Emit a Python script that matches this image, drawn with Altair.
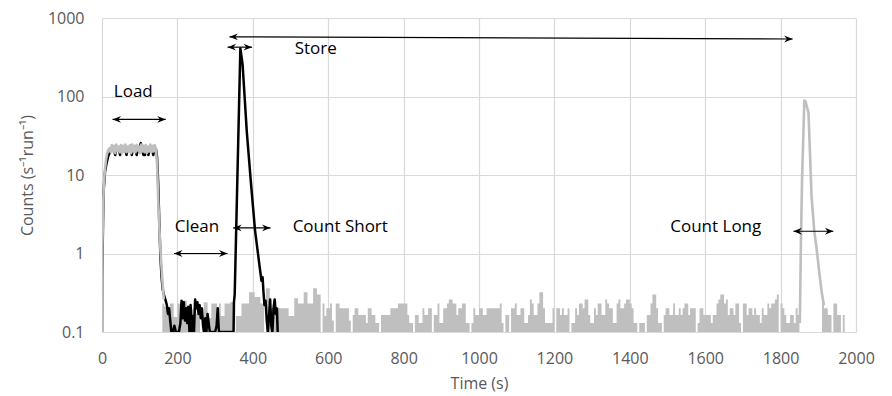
import altair as alt
import pandas as pd

# ---------------- data ----------------
x_ticks = [0, 200, 400, 600, 800, 1000, 1200, 1400, 1600, 1800, 2000]
y_ticks = [0.1, 1, 10, 100, 1000]

# black series (short storage run)
black_t = [0, 0.5, 4, 8, 12, 16, 20, 24, 28, 32,
           35, 38, 42, 45, 48, 51, 55, 59, 62, 65,
           68, 72, 75, 79, 82, 86, 89, 92, 95, 99,
           103, 106, 110, 112, 114, 117, 120, 123, 126, 130,
           133, 136, 139, 143, 146, 149, 152, 155, 158, 161,
           164, 167, 170, 172, 175, 178, 181, 184, 188, 192,
           196, 200, 204, 208, 211, 214, 217, 220, 223, 226,
           229, 232, 235, 238, 241, 244, 247, 250, 253, 256,
           259, 262, 265, 268, 271, 274, 277, 280, 283, 286,
           290, 295, 300, 304, 307, 310, 314, 320, 326, 332,
           338, 344, 349, 350, 352, 367, 373, 384, 395, 406,
           417, 423, 426, 428, 431, 434, 437, 440, 443, 446,
           449, 452, 455, 458, 461, 464, 466]
black_v = [0.1, 0.5, 6, 11, 14, 17, 19, 21.5, 21.5, 21,
           18, 21.5, 21.5, 21, 18, 21.5, 21.5, 21.5, 21, 18,
           21.5, 21.5, 21, 18, 21.5, 21.5, 21, 18, 21.5, 22,
           25.5, 21.5, 18, 21, 18, 21.5, 21, 18, 21.5, 21.5,
           21, 18, 21.5, 21.5, 17, 8, 2.5, 0.9, 0.5, 0.35,
           0.3, 0.27, 0.24, 0.22, 0.17, 0.2, 0.14, 0.1, 0.1, 0.12,
           0.1, 0.1, 0.1, 0.13, 0.25, 0.15, 0.24, 0.14, 0.2, 0.13,
           0.21, 0.1, 0.22, 0.1, 0.16, 0.1, 0.26, 0.2, 0.24, 0.17,
           0.22, 0.15, 0.2, 0.12, 0.1, 0.15, 0.1, 0.17, 0.13, 0.1,
           0.1, 0.1, 0.1, 0.12, 0.2, 0.1, 0.1, 0.1, 0.1, 0.1,
           0.1, 0.1, 0.1, 0.24, 0.3, 410, 254, 36, 8, 1.96,
           0.75, 0.45, 0.5, 0.34, 0.22, 0.25, 0.14, 0.1, 0.16, 0.26,
           0.12, 0.1, 0.2, 0.26, 0.17, 0.2, 0.1]

# grey series (long storage run): loading plateau and long-count peak (lines)
gray_rise_t = [0, 1, 3, 5, 8, 11, 14, 17]
gray_rise_v = [0.1, 1.2, 4, 8, 12, 16, 19, 21]
gray_plateau_start, gray_plateau_step = 20, 3
gray_plateau_v = [22, 19.5, 24, 20, 23.5, 19, 24.5, 20.5, 23, 19.5,
                  24, 19, 23.5, 20, 24.5, 19.5, 23, 20, 24, 19,
                  24.5, 20, 23.5, 19.5, 24, 20.5, 23, 19, 24.5, 20,
                  23.5, 19.5, 24, 19, 23, 20, 24.5, 19.5, 23.5, 20,
                  24, 21]
gray_drop_t = [146, 149, 152, 155, 158, 161, 164]
gray_drop_v = [14, 5, 2.2, 1.1, 0.65, 0.4, 0.26]
gray_peak_t = [1851, 1854, 1857, 1863, 1866, 1874, 1882, 1889, 1896, 1904, 1910, 1915]
gray_peak_v = [0.13, 1.5, 9, 89, 87, 62, 5.5, 2, 1.1, 0.5, 0.3, 0.22]

# grey background counts, 5 s bins (0.1 = no counts)
noise_start, noise_step = 160, 5
noise_v = [
    # 160 - 585
    0.23, 0.21, 0.21, 0.21, 0.23, 0.23, 0.155, 0.155, 0.23, 0.23,
    0.25, 0.25, 0.25, 0.19, 0.1, 0.19, 0.2, 0.2, 0.17, 0.2,
    0.1, 0.16, 0.24, 0.24, 0.15, 0.15, 0.23, 0.23, 0.23, 0.1,
    0.23, 0.16, 0.16, 0.23, 0.23, 0.23, 0.24, 0.24, 0.1, 0.16,
    0.16, 0.16, 0.23, 0.23, 0.23, 0.23, 0.32, 0.32, 0.32, 0.28,
    0.28, 0.28, 0.23, 0.23, 0.1, 0.36, 0.36, 0.2, 0.2, 0.2,
    0.2, 0.2, 0.2, 0.2, 0.2, 0.2, 0.2, 0.16, 0.16, 0.16,
    0.27, 0.27, 0.23, 0.23, 0.23, 0.32, 0.32, 0.23, 0.23, 0.23,
    0.36, 0.36, 0.3, 0.3, 0.1, 0.23,
    # 590 - 1045
    0.16, 0.2, 0.2, 0.23, 0.14, 0.1, 0.23, 0.23, 0.2, 0.2,
    0.2, 0.2, 0.2, 0.14, 0.1, 0.165, 0.2, 0.2, 0.165, 0.165,
    0.165, 0.165, 0.13, 0.2, 0.2, 0.165, 0.165, 0.13, 0.13, 0.1,
    0.165, 0.165, 0.165, 0.165, 0.165, 0.2, 0.2, 0.2, 0.2, 0.23,
    0.23, 0.23, 0.23, 0.23, 0.165, 0.13, 0.13, 0.1, 0.165, 0.165,
    0.13, 0.13, 0.2, 0.165, 0.165, 0.2, 0.2, 0.1, 0.165, 0.165,
    0.23, 0.13, 0.13, 0.2, 0.2, 0.23, 0.26, 0.26, 0.23, 0.23,
    0.165, 0.2, 0.2, 0.23, 0.23, 0.13, 0.13, 0.1, 0.13, 0.2,
    0.165, 0.165, 0.2, 0.2, 0.165, 0.165, 0.2, 0.2, 0.2, 0.2,
    0.2, 0.2,
    # 1050 - 1500
    0.2, 0.23, 0.13, 0.1, 0.165, 0.165, 0.1, 0.2, 0.2, 0.23,
    0.165, 0.165, 0.2, 0.2, 0.13, 0.13, 0.165, 0.26, 0.23, 0.165,
    0.165, 0.23, 0.32, 0.32, 0.2, 0.13, 0.13, 0.13, 0.13, 0.2,
    0.1, 0.2, 0.2, 0.165, 0.2, 0.165, 0.165, 0.2, 0.1, 0.13,
    0.13, 0.2, 0.165, 0.23, 0.23, 0.2, 0.26, 0.26, 0.165, 0.13,
    0.13, 0.2, 0.165, 0.23, 0.23, 0.165, 0.165, 0.26, 0.23, 0.2,
    0.2, 0.13, 0.13, 0.23, 0.26, 0.2, 0.2, 0.23, 0.26, 0.26,
    0.23, 0.2, 0.13, 0.13, 0.1, 0.13, 0.13, 0.13, 0.1, 0.165,
    0.165, 0.23, 0.3, 0.3, 0.2, 0.13, 0.13, 0.1, 0.165, 0.2,
    0.2,
    # 1505 - 1845
    0.165, 0.165, 0.23, 0.165, 0.165, 0.2, 0.165, 0.2, 0.23, 0.23,
    0.165, 0.2, 0.2, 0.2, 0.1, 0.13, 0.2, 0.2, 0.165, 0.165,
    0.165, 0.165, 0.13, 0.165, 0.165, 0.23, 0.26, 0.3, 0.3, 0.23,
    0.26, 0.165, 0.2, 0.2, 0.165, 0.23, 0.23, 0.13, 0.1, 0.23,
    0.23, 0.165, 0.2, 0.2, 0.165, 0.2, 0.165, 0.165, 0.13, 0.2,
    0.165, 0.165, 0.23, 0.2, 0.23, 0.23, 0.26, 0.3, 0.1, 0.23,
    0.2, 0.165, 0.13, 0.13, 0.165, 0.165, 0.13, 0.2, 0.165,
]
noise2_start = 1910
noise2_v = [0.25, 0.2, 0.2, 0.165, 0.165, 0.1, 0.23, 0.23, 0.165, 0.165, 0.1, 0.165]

# annotations
label_text = ["Load", "Store", "Clean", "Count Short", "Count Long"]
label_t = [83, 567, 252, 632, 1628]
label_v = [100, 343, 1.9, 1.88, 1.9]

arrow_t1 = [28, 338, 333, 191, 348, 1834]
arrow_t2 = [169, 1832, 398, 333, 447, 1940]
arrow_v1 = [51, 575, 425, 1.0, 2.12, 1.92]
arrow_v2 = [51, 540, 425, 1.0, 2.12, 1.92]

# ---------------- tables ----------------
black_df = pd.DataFrame({"t": black_t, "v": black_v})

plateau_t = [gray_plateau_start + gray_plateau_step * i for i in range(len(gray_plateau_v))]
gray_df = pd.DataFrame({
    "t": gray_rise_t + plateau_t + gray_drop_t + gray_peak_t,
    "v": gray_rise_v + gray_plateau_v + gray_drop_v + gray_peak_v,
    "seg": ["load"] * (len(gray_rise_t) + len(plateau_t) + len(gray_drop_t)) + ["peak"] * len(gray_peak_t),
})

n1_t = [noise_start + noise_step * i for i in range(len(noise_v) + 1)]
n1_v = noise_v + [noise_v[-1]]
n2_t = [noise2_start + noise_step * i for i in range(len(noise2_v) + 1)]
n2_v = noise2_v + [noise2_v[-1]]
noise_df = pd.DataFrame({
    "t": n1_t + n2_t,
    "v": n1_v + n2_v,
    "seg": ["a"] * len(n1_t) + ["b"] * len(n2_t),
})

label_df = pd.DataFrame({"t": label_t, "v": label_v, "txt": label_text})
arrow_df = pd.DataFrame({"t": arrow_t1, "t2": arrow_t2, "v": arrow_v1, "v2": arrow_v2})
head_df = pd.DataFrame({
    "t": arrow_t1 + arrow_t2,
    "v": arrow_v1 + arrow_v2,
    "ang": [180] * len(arrow_t1) + [0] * len(arrow_t2),
})

# ---------------- chart ----------------
FONT = "Open Sans"
GREY = "#bfbfbf"
xs = alt.Scale(domain=[0, 2000], nice=False, zero=False)
ys = alt.Scale(type="log", domain=[0.1, 1000], nice=False)

x_axis = alt.Axis(values=x_ticks, title="Time (s)", grid=True, domain=False, ticks=False,
                  labelPadding=18, titlePadding=9, format="d", labelFlush=False)
y_axis = alt.Axis(values=y_ticks, title="Counts (s⁻¹run⁻¹)", grid=True, domain=False,
                  ticks=False, labelPadding=18, titlePadding=12, format="~g", labelFlush=False)

X = alt.X("t:Q", scale=xs, axis=x_axis)
Y = alt.Y("v:Q", scale=ys, axis=y_axis)

noise = alt.Chart(noise_df).mark_area(interpolate="step-after", color=GREY, clip=True).encode(
    x=X, y=Y, y2=alt.datum(0.1), detail="seg:N",
)

black = alt.Chart(black_df).mark_line(color="#000000", strokeWidth=2.5, clip=True,
                                      strokeJoin="round").encode(
    x=X, y=Y, order="t:Q",
)

gray = alt.Chart(gray_df).mark_line(color=GREY, strokeWidth=2.6, clip=True,
                                    strokeJoin="round").encode(
    x=X, y=Y, detail="seg:N", order="t:Q",
)

arrows = alt.Chart(arrow_df).mark_rule(color="#000000", strokeWidth=1.2).encode(
    x=X, x2="t2:Q", y=Y, y2="v2:Q",
)

heads = alt.Chart(head_df).mark_point(
    shape="M0,0 L-2,-0.8 L-1.35,0 L-2,0.8 Z", filled=True, color="#000000",
    opacity=1, size=72, strokeWidth=0,
).encode(
    x=X, y=Y, angle=alt.Angle("ang:Q", scale=None),
)

labels = alt.Chart(label_df).mark_text(
    font=FONT, fontSize=17, color="#000000", align="center", baseline="alphabetic"
).encode(
    x=X, y=Y, text="txt:N",
)

chart = alt.layer(noise, black, gray, arrows, heads, labels).properties(
    width=754,
    height=314,
    autosize=alt.AutoSizeParams(type="none"),
    padding={"left": 94, "top": 10, "right": 28, "bottom": 64},
).configure_view(strokeWidth=0).configure_axis(
    labelFont=FONT, labelFontSize=16, labelColor="#595959",
    titleFont=FONT, titleFontSize=16, titleFontWeight="normal", titleColor="#595959",
    gridColor="#d9d9d9", gridWidth=1.2,
)

chart.save("out.html", embed_options={"renderer": "svg", "actions": False})
